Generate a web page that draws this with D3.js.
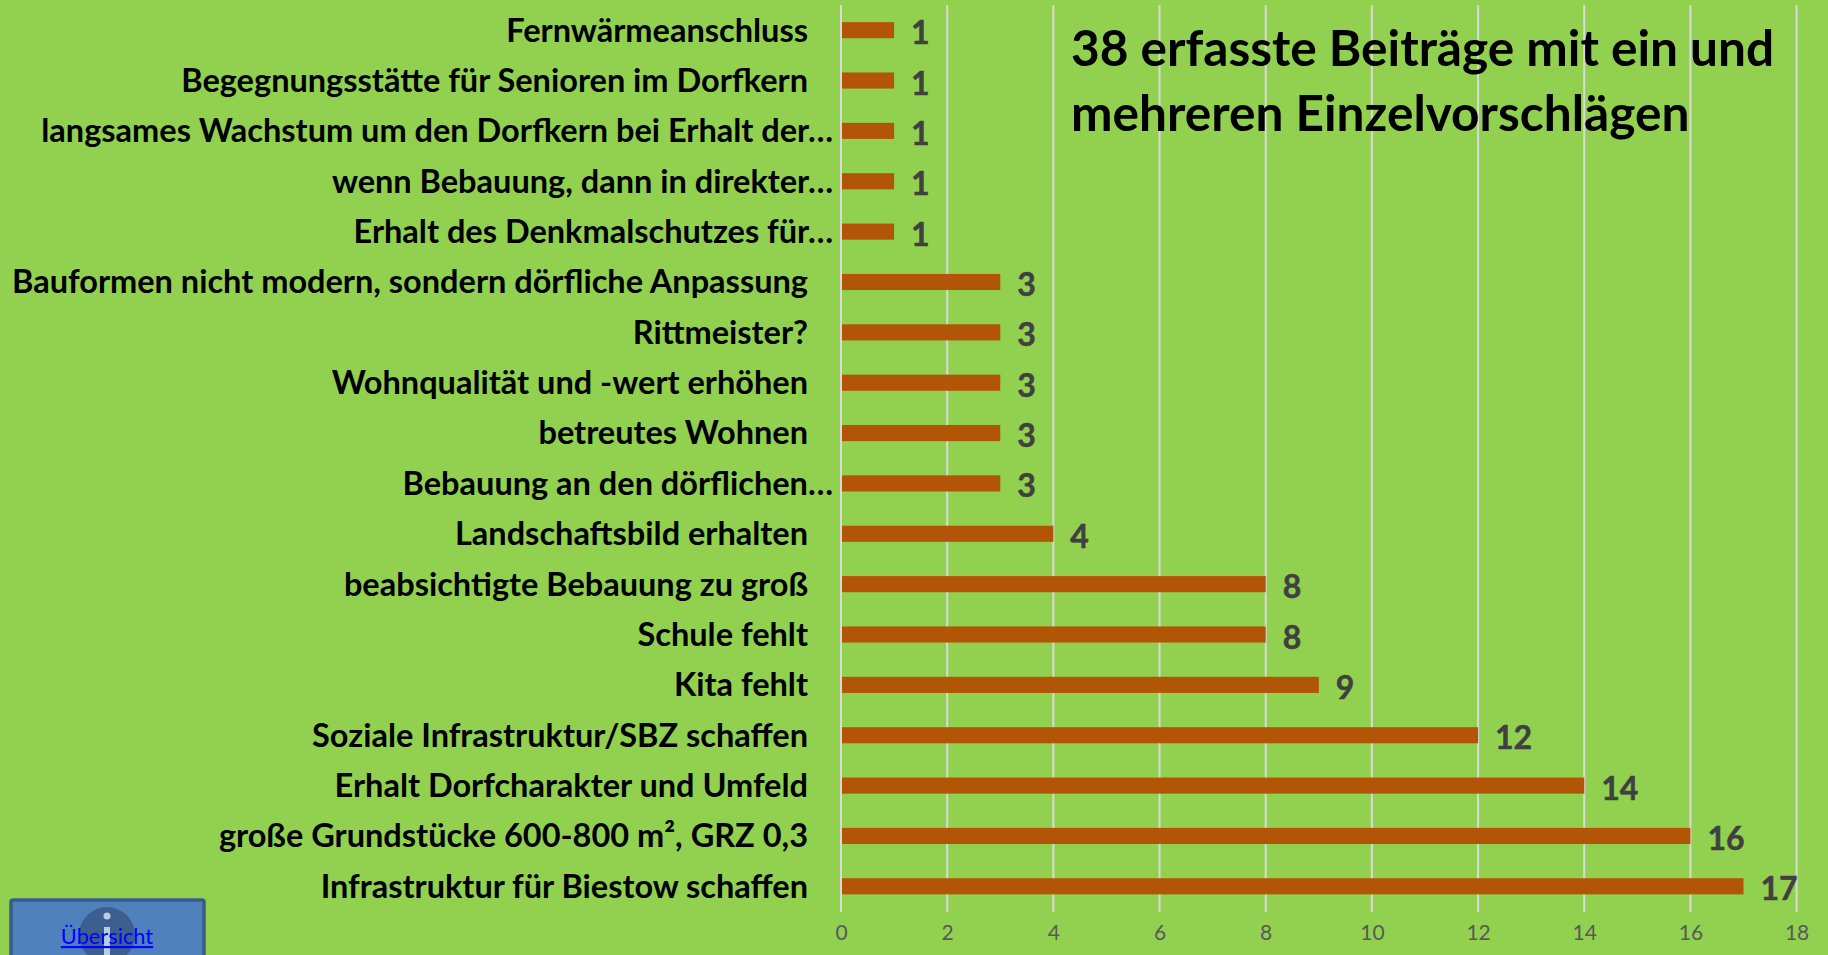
<!DOCTYPE html>
<html>
<head>
<meta charset="utf-8">
<script src="https://cdn.jsdelivr.net/npm/d3@7"></script>
<style>
    html, body { margin: 0; padding: 0; background: #92d050; overflow: hidden; }
    text { font-family: Lato, "Open Sans", sans-serif; }
</style>
</head>
<body>
<div id="chart"></div>
<script>
const categories = [
    "Fernwärmeanschluss",
    "Begegnungsstätte für Senioren im Dorfkern",
    "langsames Wachstum um den Dorfkern bei Erhalt der…",
    "wenn Bebauung, dann in direkter…",
    "Erhalt des Denkmalschutzes für…",
    "Bauformen nicht modern, sondern dörfliche Anpassung",
    "Rittmeister?",
    "Wohnqualität und -wert erhöhen",
    "betreutes Wohnen",
    "Bebauung an den dörflichen…",
    "Landschaftsbild erhalten",
    "beabsichtigte Bebauung zu groß",
    "Schule fehlt",
    "Kita fehlt",
    "Soziale Infrastruktur/SBZ schaffen",
    "Erhalt Dorfcharakter und Umfeld",
    "große Grundstücke 600-800 m², GRZ 0,3",
    "Infrastruktur für Biestow schaffen"
];
const values = [1, 1, 1, 1, 1, 3, 3, 3, 3, 3, 4, 8, 8, 9, 12, 14, 16, 17];
const xTicks = [0, 2, 4, 6, 8, 10, 12, 14, 16, 18];
const titleLines = ["38 erfasste Beiträge mit ein und", "mehreren Einzelvorschlägen"];

const width = 1828, height = 955;

const x = d3.scaleLinear().domain([0, 18]).range([841, 1796.6]);
const y = d3.scaleBand().domain(categories).range([5, 911.5]).paddingInner(0.68).paddingOuter(0.34);

const svg = d3.select("#chart").append("svg")
    .attr("width", width)
    .attr("height", height)
    .style("display", "block");

svg.append("rect")
    .attr("width", width)
    .attr("height", height)
    .attr("fill", "#92d050");

// gridlines
svg.append("g")
    .selectAll("line")
    .data(xTicks)
    .enter().append("line")
    .attr("x1", d => x(d))
    .attr("x2", d => x(d))
    .attr("y1", 5)
    .attr("y2", 912)
    .attr("stroke", "#d9d9d9")
    .attr("stroke-width", 2);

// x axis, only the labels are visible
const xAxis = svg.append("g")
    .attr("transform", "translate(0,912)")
    .call(d3.axisBottom(x).tickValues(xTicks).tickSize(0).tickPadding(13));
xAxis.select(".domain").remove();
xAxis.selectAll("text")
    .style("font-size", "21px")
    .style("fill", "#595959");

// bars start just right of the zero gridline
svg.selectAll(".bar")
    .data(categories)
    .enter().append("rect")
    .attr("class", "bar")
    .attr("x", x(0) + 1)
    .attr("y", d => y(d))
    .attr("width", (d, i) => x(values[i]) - x(0) - 1)
    .attr("height", y.bandwidth())
    .attr("fill", "#b35506");

// category labels, the shortened ones sit closer to the axis
svg.selectAll(".cat")
    .data(categories)
    .enter().append("text")
    .attr("class", "cat")
    .attr("x", d => d.endsWith("…") ? 833 : 808)
    .attr("y", d => y(d) + y.bandwidth() / 2)
    .attr("dy", "0.35em")
    .attr("text-anchor", "end")
    .style("font-size", "32.5px")
    .style("font-weight", "700")
    .style("fill", "#000")
    .text(d => d);

// value labels
svg.selectAll(".val")
    .data(categories)
    .enter().append("text")
    .attr("class", "val")
    .attr("x", (d, i) => x(values[i]) + 17)
    .attr("y", d => y(d) + y.bandwidth() / 2 + 2.5)
    .attr("dy", "0.36em")
    .style("font-size", "32px")
    .style("font-weight", "700")
    .style("fill", "#404040")
    .style("stroke", "#404040")
    .style("stroke-width", 0.5)
    .text((d, i) => values[i]);

// title
svg.selectAll(".title")
    .data(titleLines)
    .enter().append("text")
    .attr("class", "title")
    .attr("x", 1071)
    .attr("y", (d, i) => 66 + i * 64.5)
    .style("font-size", "49.6px")
    .style("font-weight", "700")
    .style("fill", "#000")
    .text(d => d);

// "Übersicht" button in the corner
const button = svg.append("g");
button.append("rect")
    .attr("x", 11)
    .attr("y", 900)
    .attr("width", 193)
    .attr("height", 70)
    .attr("rx", 2)
    .attr("fill", "#4f81bd")
    .attr("stroke", "#385d8a")
    .attr("stroke-width", 3.5);
button.append("circle")
    .attr("cx", 107)
    .attr("cy", 935)
    .attr("r", 28)
    .attr("fill", "#3d5f8f");
button.append("circle")
    .attr("cx", 107)
    .attr("cy", 916)
    .attr("r", 3.5)
    .attr("fill", "#b9cde5");
button.append("rect")
    .attr("x", 104)
    .attr("y", 927)
    .attr("width", 6)
    .attr("height", 28)
    .attr("fill", "#b9cde5");
button.append("text")
    .attr("x", 107)
    .attr("y", 944)
    .attr("text-anchor", "middle")
    .style("font-size", "21.8px")
    .style("fill", "#0000ff")
    .style("text-decoration", "underline")
    .text("Übersicht");
</script>
</body>
</html>
